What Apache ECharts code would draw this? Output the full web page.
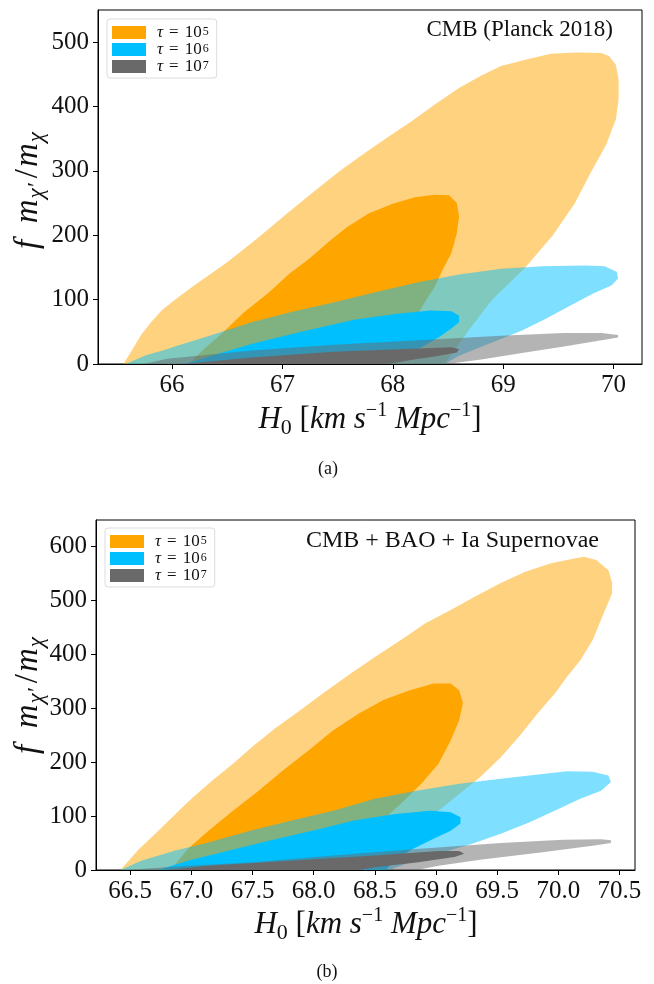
<!DOCTYPE html>
<html>
<head>
<meta charset="utf-8">
<script src="https://cdn.jsdelivr.net/npm/echarts@6/dist/echarts.min.js"></script>
<style>html,body{margin:0;padding:0;background:#fff}#c{width:654px;height:984px}</style>
</head>
<body>
<div id="c"></div>
<script>
// ---------- data ----------
// Panel (a): CMB (Planck 2018)
const cmbOuter5 = [[65.56,0],[65.64,22],[65.72,45],[65.81,65],[65.91,84],[66.05,103],[66.21,123],[66.50,158],[66.78,196],[67.05,235],[67.30,270],[67.52,300],[67.74,327],[67.95,352],[68.17,377],[68.38,403],[68.60,429],[68.79,447],[68.98,463],[69.21,473],[69.43,482],[69.66,484],[69.89,483],[69.96,478],[70.02,465],[70.045,442],[70.045,411],[70.02,380],[69.93,340],[69.80,300],[69.65,250],[69.45,200],[69.20,150],[68.90,100],[68.70,55],[68.47,0]];
const cmbInner5 = [[66.15,0],[66.30,25],[66.45,47],[66.65,80],[66.87,110],[67.06,140],[67.24,163],[67.42,190],[67.58,212],[67.78,234],[68.00,249],[68.20,259],[68.38,263],[68.51,262],[68.58,250],[68.60,229],[68.58,203],[68.53,172],[68.45,146],[68.38,120],[68.30,99],[68.20,70],[68.10,40],[68.00,0]];
const cmbOuter6 = [[65.58,0],[65.77,14],[65.94,22],[66.04,28],[66.34,44],[66.72,65],[67.09,81],[67.47,96],[67.85,112],[68.23,127],[68.60,139],[68.98,148],[69.36,152],[69.74,153],[69.92,152],[70.03,143],[70.04,133],[69.98,122],[69.81,109],[69.58,88],[69.36,68],[69.17,52],[68.98,39],[68.79,26],[68.60,13],[68.47,0]];
const cmbInner6 = [[66.11,0],[66.42,16],[66.72,31],[67.02,44],[67.32,56],[67.66,69],[68.04,78],[68.34,83],[68.53,82],[68.60,75],[68.60,65],[68.53,55],[68.42,42],[68.26,26],[68.11,13],[67.98,0]];
const cmbOuter7 = [[65.74,0],[65.96,8],[66.24,13],[66.72,21],[67.47,30],[68.23,37],[68.98,44],[69.55,48],[69.89,48],[70.04,45],[70.04,41],[69.89,37],[69.55,27],[69.17,17],[68.80,7],[68.49,0]];
const cmbInner7 = [[66.10,0],[66.72,10],[67.47,19],[68.23,24],[68.53,26],[68.60,23],[68.58,18],[68.42,13],[68.15,6],[67.96,0]];

// Panel (b): CMB + BAO + Ia Supernovae
const baoOuter5 = [[66.42,0],[66.56,36],[66.73,73],[66.87,104],[67.00,132],[67.17,166],[67.34,197],[67.51,231],[67.68,262],[67.89,296],[68.09,330],[68.30,364],[68.50,395],[68.71,426],[68.91,457],[69.12,482],[69.32,507],[69.53,532],[69.73,553],[69.94,569],[70.14,578],[70.21,581],[70.31,575],[70.41,556],[70.44,532],[70.44,513],[70.36,470],[70.28,426],[70.18,389],[70.07,358],[69.97,327],[69.83,290],[69.70,253],[69.53,209],[69.36,172],[69.19,141],[69.02,110],[68.84,79],[68.71,48],[68.61,17],[68.57,0]];
const baoInner5 = [[66.83,0],[66.97,39],[67.14,73],[67.34,110],[67.55,147],[67.75,185],[67.96,222],[68.16,259],[68.37,290],[68.57,315],[68.78,333],[68.98,346],[69.12,346],[69.19,333],[69.22,309],[69.19,278],[69.12,240],[69.02,197],[68.88,160],[68.74,129],[68.62,104],[68.54,79],[68.45,45],[68.35,0]];
const baoOuter6 = [[66.42,0],[66.59,17],[66.87,36],[67.14,51],[67.48,73],[67.82,92],[68.16,110],[68.50,132],[68.84,147],[69.19,160],[69.53,169],[69.87,178],[70.07,183],[70.28,182],[70.41,175],[70.43,163],[70.35,147],[70.18,132],[69.97,110],[69.77,89],[69.53,67],[69.29,48],[69.02,30],[68.78,14],[68.62,0]];
const baoInner6 = [[66.73,0],[66.97,17],[67.31,36],[67.65,55],[67.99,73],[68.33,92],[68.67,104],[68.95,110],[69.12,107],[69.20,98],[69.20,86],[69.12,73],[68.98,58],[68.81,39],[68.67,20],[68.59,0]];
const baoOuter7 = [[66.46,0],[66.97,8],[67.48,14],[68.16,27],[68.84,39],[69.53,50],[70.04,56],[70.35,57],[70.43,55],[70.43,50],[70.28,45],[69.87,33],[69.36,19],[69.02,8],[68.84,0]];
const baoInner7 = [[66.80,0],[67.14,8],[67.82,17],[68.50,27],[69.02,35],[69.19,35],[69.23,30],[69.15,24],[68.84,14],[68.50,5],[68.37,0]];

// ticks
const xTicksA = [66, 67, 68, 69, 70];
const yTicksA = [0, 100, 200, 300, 400, 500];
const xTicksB = [66.5, 67.0, 67.5, 68.0, 68.5, 69.0, 69.5, 70.0, 70.5];
const yTicksB = [0, 100, 200, 300, 400, 500, 600];
const legendNames = ['tau5', 'tau6', 'tau7'];
const legendExp = {tau5: '5', tau6: '6', tau7: '7'};

// ---------- styling ----------
const SERIF = "'Liberation Serif','DejaVu Serif',serif";
const colFull = {tau5: '#FFA500', tau6: '#00BFFF', tau7: '#696969'};
const colHalf = {tau5: 'rgba(255,165,0,0.5)', tau6: 'rgba(0,191,255,0.5)', tau7: 'rgba(105,105,105,0.5)'};

function poly(name, pts, fill, g) {
  return {
    type: 'custom', name: name, coordinateSystem: 'cartesian2d',
    xAxisIndex: g, yAxisIndex: g, data: pts, clip: true, silent: true, animation: false,
    renderItem: function (params, api) {
      if (params.dataIndex !== 0) return null;
      const p = pts.map(function (d) { return api.coord(d); });
      return {type: 'polygon', shape: {points: p}, style: {fill: fill, stroke: null}};
    }
  };
}

function xAxis(g, min, max, ticks, fmt) {
  return {
    type: 'value', gridIndex: g, min: min, max: max, z: 10,
    axisLine: {show: true, onZero: false, lineStyle: {color: '#000', width: 1}},
    axisTick: {show: true, length: 5, inside: false, customValues: ticks, lineStyle: {color: '#000', width: 1}},
    axisLabel: {customValues: ticks, margin: 9, color: '#111', fontSize: 25, fontFamily: SERIF, formatter: fmt},
    splitLine: {show: false}
  };
}
function yAxis(g, min, max, ticks) {
  return {
    type: 'value', gridIndex: g, min: min, max: max, z: 10,
    axisLine: {show: true, onZero: false, lineStyle: {color: '#000', width: 1}},
    axisTick: {show: true, length: 5, inside: false, customValues: ticks, lineStyle: {color: '#000', width: 1}},
    axisLabel: {customValues: ticks, margin: 9, color: '#111', fontSize: 25, fontFamily: SERIF},
    splitLine: {show: false}
  };
}
function legend(left, top) {
  return {
    orient: 'vertical', left: left, top: top,
    data: legendNames.map(function (n) { return {name: n, itemStyle: {color: colFull[n]}, icon: 'rect'}; }),
    itemWidth: 34, itemHeight: 13, itemGap: 0,
    padding: [5, 8, 3, 5],
    backgroundColor: 'rgba(255,255,255,0.8)', borderColor: '#dcdcdc', borderWidth: 1, borderRadius: 3,
    selectedMode: false,
    formatter: function (n) { return '{g|τ}{e|=}{t|10}{s|' + legendExp[n] + '}'; },
    textStyle: {
      fontFamily: SERIF, fontSize: 16, color: '#111', padding: [0, 0, 0, 6], lineHeight: 14,
      rich: {
        g: {fontFamily: SERIF, fontSize: 17, fontStyle: 'italic', color: '#111', lineHeight: 14},
        e: {fontFamily: SERIF, fontSize: 17, color: '#111', lineHeight: 14, padding: [0, 6, 0, 6]},
        t: {fontFamily: SERIF, fontSize: 17, color: '#111', lineHeight: 14},
        s: {fontFamily: SERIF, fontSize: 12, color: '#111', verticalAlign: 'top', lineHeight: 14, padding: [0, 0, 0, 1]}
      }
    }
  };
}

const labRich = {
  i: {fontFamily: SERIF, fontStyle: 'italic', fontSize: 31, fill: '#111', lineHeight: 38},
  r: {fontFamily: SERIF, fontSize: 31, fill: '#111', lineHeight: 38},
  s: {fontFamily: SERIF, fontSize: 22, fill: '#111', verticalAlign: 'bottom', lineHeight: 24},
  p: {fontFamily: SERIF, fontSize: 20, fill: '#111', verticalAlign: 'top', lineHeight: 22}
};
const yRich = {
  i: {fontFamily: SERIF, fontStyle: 'italic', fontSize: 33, fill: '#111', lineHeight: 40},
  s: {fontFamily: SERIF, fontStyle: 'italic', fontSize: 23, fill: '#111', verticalAlign: 'bottom', lineHeight: 24, padding: [0, 3, 0, 1]},
  q: {fontFamily: SERIF, fontSize: 33, fill: '#111', lineHeight: 40, padding: [0, 2, 0, 2]}
};
function xLabel(x, y) {
  return {type: 'text', x: x, y: y, silent: true, z: 100,
    style: {text: '{i|H}{s|0}{r| [}{i|km s}{p|−1}{i| Mpc}{p|−1}{r|]}', align: 'center', verticalAlign: 'middle', rich: labRich}};
}
function yLabel(x, y) {
  return {type: 'text', x: x, y: y, rotation: Math.PI / 2, silent: true, z: 100,
    style: {text: '{i|f  m}{s|χ′}{q|/}{i|m}{s|χ}', align: 'center', verticalAlign: 'middle', rich: yRich}};
}
function plainText(x, y, t, size, align) {
  return {type: 'text', x: x, y: y, silent: true, z: 100,
    style: {text: t, fontFamily: SERIF, fontSize: size, fill: '#111', align: align, verticalAlign: 'middle'}};
}

const series = [
  poly('tau5', cmbOuter5, colHalf.tau5, 0), poly('tau5', cmbInner5, colFull.tau5, 0),
  poly('tau6', cmbOuter6, colHalf.tau6, 0), poly('tau6', cmbInner6, colFull.tau6, 0),
  poly('tau7', cmbOuter7, colHalf.tau7, 0), poly('tau7', cmbInner7, colFull.tau7, 0),
  poly('tau5', baoOuter5, colHalf.tau5, 1), poly('tau5', baoInner5, colFull.tau5, 1),
  poly('tau6', baoOuter6, colHalf.tau6, 1), poly('tau6', baoInner6, colFull.tau6, 1),
  poly('tau7', baoOuter7, colHalf.tau7, 1), poly('tau7', baoInner7, colFull.tau7, 1)
];

const chart = echarts.init(document.getElementById('c'), null, {renderer: 'canvas'});
chart.setOption({
  animation: false,
  backgroundColor: '#fff',
  grid: [
    {left: 98, top: 10, width: 544, height: 354, show: true, borderColor: '#000', borderWidth: 1, backgroundColor: 'transparent'},
    {left: 96, top: 520, width: 539, height: 350, show: true, borderColor: '#000', borderWidth: 1, backgroundColor: 'transparent'}
  ],
  xAxis: [
    xAxis(0, 65.33, 70.257, xTicksA, function (v) { return String(Math.round(v)); }),
    xAxis(1, 66.22, 70.627, xTicksB, function (v) { return v.toFixed(1); })
  ],
  yAxis: [
    yAxis(0, 0, 550, yTicksA),
    yAxis(1, 0, 649, yTicksB)
  ],
  legend: [legend(107, 19), legend(105, 528)],
  series: series,
  graphic: [
    plainText(613, 30, 'CMB (Planck 2018)', 23, 'right'),
    plainText(599, 541, 'CMB + BAO + Ia Supernovae', 24, 'right'),
    xLabel(370, 420), xLabel(366, 925),
    yLabel(28, 189), yLabel(28, 694),
    plainText(328, 469, '(a)', 18, 'center'),
    plainText(327, 972, '(b)', 18, 'center')
  ]
});
</script>
</body>
</html>
